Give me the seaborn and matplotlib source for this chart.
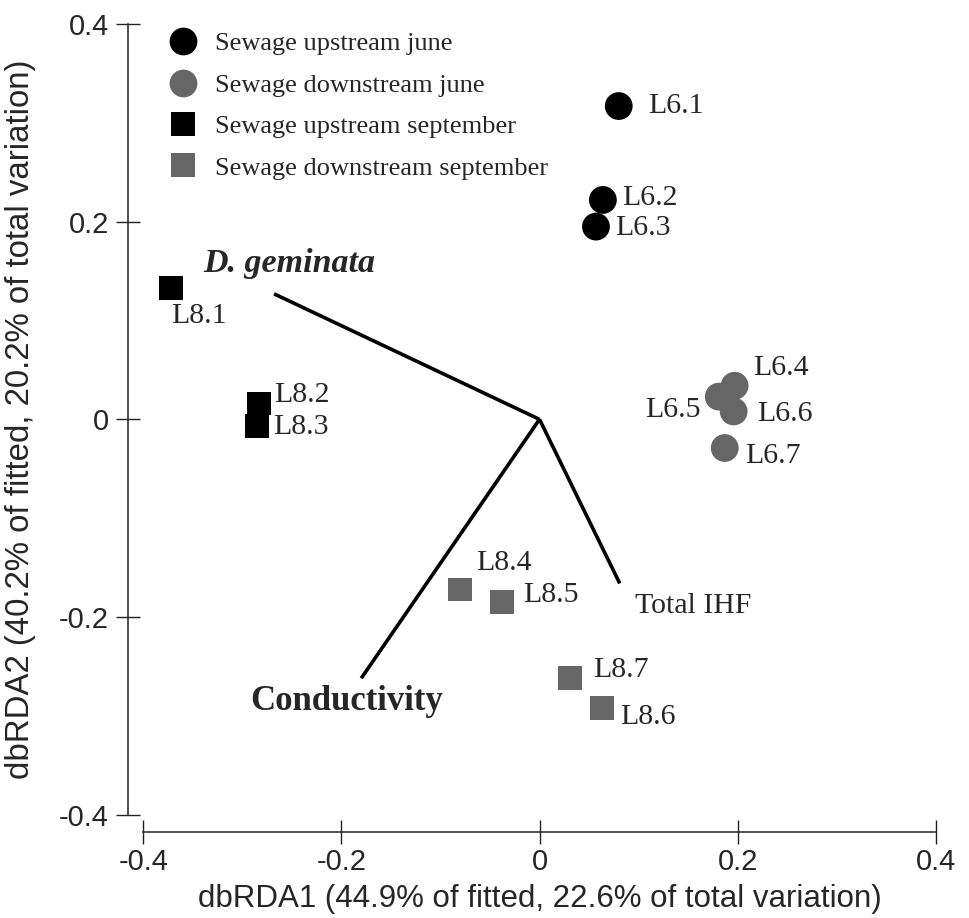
import matplotlib
matplotlib.use("Agg")
import matplotlib.pyplot as plt
import seaborn as sns
import pandas as pd

# site scores
site_labels = ["L6.1", "L6.2", "L6.3", "L6.4", "L6.5", "L6.6", "L6.7",
               "L8.1", "L8.2", "L8.3", "L8.4", "L8.5", "L8.6", "L8.7"]
dbrda1 = [0.080, 0.064, 0.057, 0.197, 0.181, 0.196, 0.187,
          -0.372, -0.283, -0.285, -0.080, -0.038, 0.063, 0.031]
dbrda2 = [0.317, 0.222, 0.195, 0.034, 0.023, 0.008, -0.029,
          0.133, 0.016, -0.007, -0.172, -0.185, -0.292, -0.262]
groups = ["Sewage upstream june"] * 3 + ["Sewage downstream june"] * 4 + \
         ["Sewage upstream september"] * 3 + ["Sewage downstream september"] * 4
group_order = ["Sewage upstream june", "Sewage downstream june",
               "Sewage upstream september", "Sewage downstream september"]

# biplot vectors
vector_names = ["D. geminata", "Conductivity", "Total IHF"]
vector_x = [-0.268, -0.180, 0.081]
vector_y = [0.127, -0.262, -0.166]

ticks = [-0.4, -0.2, 0, 0.2, 0.4]
tick_labels = ["-0.4", "-0.2", "0", "0.2", "0.4"]

# layout: label offsets in pixels (dx, dy up), alignment
site_offsets = {
    "L6.1": (29, 0, "left"), "L6.2": (19, 2, "left"), "L6.3": (19, -1, "left"),
    "L6.4": (18, 18, "left"), "L6.5": (-18, -13, "right"), "L6.6": (23, -3, "left"),
    "L6.7": (20, -8, "left"), "L8.1": (0, -28, "left"), "L8.2": (15, 9, "left"),
    "L8.3": (16, -1, "left"), "L8.4": (16, 26, "left"), "L8.5": (21, 7, "left"),
    "L8.6": (18, -9, "left"), "L8.7": (23, 8, "left"),
}
vector_text = {
    "D. geminata": ((-71, 22), dict(fontsize=24.5, fontweight="bold", fontstyle="italic")),
    "Conductivity": ((-111, -32), dict(fontsize=25, fontweight="bold")),
    "Total IHF": ((15, -30), dict(fontsize=21.5)),
}

df = pd.DataFrame({"dbRDA1": dbrda1, "dbRDA2": dbrda2, "site": site_labels, "group": groups})

sns.set_style("ticks")
plt.rcParams["font.family"] = ["Liberation Sans", "DejaVu Sans"]
serif = ["Liberation Serif", "DejaVu Serif"]

fig = plt.figure(figsize=(9.7, 9.18), dpi=100)
W, H = 970, 918
ax = fig.add_axes([143.3 / W, 1 - 814.7 / H, (935.7 - 143.3) / W, (814.7 - 24) / H])

for name, vx, vy in zip(vector_names, vector_x, vector_y):
    ax.plot([0, vx], [0, vy], color="black", lw=2.6, solid_capstyle="butt")
    (dx, dy), kw = vector_text[name]
    ax.annotate(name, (vx, vy), xytext=(dx, dy), textcoords="offset pixels",
                ha="left", va="baseline", family=serif, **kw)

sns.scatterplot(
    data=df, x="dbRDA1", y="dbRDA2",
    hue="group", style="group", size="group",
    hue_order=group_order, style_order=group_order, size_order=group_order,
    palette=dict(zip(group_order, ["#000000", "#666666", "#000000", "#666666"])),
    markers=dict(zip(group_order, ["o", "o", "s", "s"])),
    sizes=dict(zip(group_order, [400, 400, 290, 290])),
    linewidth=0, ax=ax, zorder=3,
)

for lab, x, y in zip(site_labels, dbrda1, dbrda2):
    dx, dy, ha = site_offsets[lab]
    ax.annotate(lab, (x, y), xytext=(dx, dy), textcoords="offset pixels",
                ha=ha, va="center", family=serif, fontsize=21.5)

ax.set_xlim(-0.4, 0.4)
ax.set_ylim(-0.4, 0.4)
ax.set_xticks(ticks)
ax.set_xticklabels(tick_labels)
ax.set_yticks(ticks)
ax.set_yticklabels(tick_labels)

sns.despine(ax=ax)
ax.spines["left"].set_position(("outward", 11.2))
ax.spines["bottom"].set_position(("outward", 12.2))
for s in ["left", "bottom"]:
    ax.spines[s].set_linewidth(1.1)
    ax.spines[s].set_color("#222222")
ax.tick_params(direction="inout", length=17.3, width=1.0, color="#222222",
               labelsize=21, pad=5)
ax.tick_params(axis="x", pad=3)

ax.set_xlabel("dbRDA1 (44.9% of fitted, 22.6% of total variation)", fontsize=22.5)
ax.set_ylabel("dbRDA2 (40.2% of fitted, 20.2% of total variation)", fontsize=23.8)
ax.xaxis.set_label_coords(0.5, -0.088)
ax.yaxis.set_label_coords(-0.135, 0.5)

sns.move_legend(
    ax, "upper left", bbox_to_anchor=(170.2 / W, 1 - 32 / H),
    bbox_transform=fig.transFigure, title=None, frameon=False,
    prop={"family": serif, "size": 19}, borderpad=0, borderaxespad=0,
    handlelength=1.0, handletextpad=0.68, labelspacing=0.68,
)

fig.savefig("out.png", dpi=100)
